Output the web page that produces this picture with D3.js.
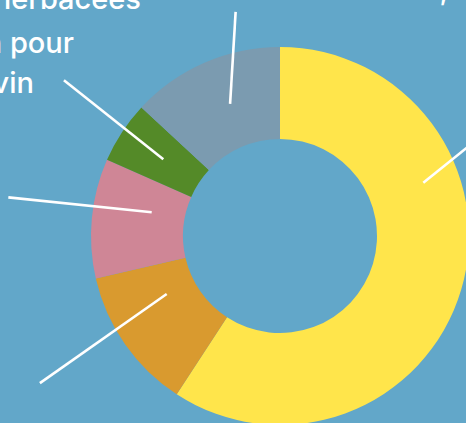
<!DOCTYPE html>
<html>
<head>
<meta charset="utf-8">
<script src="https://cdn.jsdelivr.net/npm/d3@7"></script>
<style>
  html, body { margin: 0; padding: 0; background: #62a7c9; overflow: hidden; }
  svg { display: block; }
  text { font-family: Inter, "Noto Sans", sans-serif; fill: #ffffff; font-weight: 500; }
</style>
</head>
<body>
<svg id="chart" width="466" height="423"></svg>
<script>
// ---- data ----
const categories = [
  "Prairies et fourrages",
  "Céréales",
  "Oléagineux",
  "Plantes herbacées et raisin pour le vin",
  "Autres cultures"
];
const values = [59.2, 12.2, 10.2, 5.3, 13.1];
const valueLabels = ["59,2 %", "12,2 %", "10,2 %", "5,3 %", "13,1 %"];
const colors = ["#ffe54b", "#d99a2f", "#cf8696", "#548a28", "#7b9bb0"];

// ---- layout ----
const W = 466, H = 423;
const cx = 280, cy = 236;
const outerR = 189, innerR = 97;

// leader lines in polar coordinates around the centre (degrees clockwise from top)
const leaders = [
  { a0: 69.6,  r0: 152.9, a1: 63.0,  r1: 236 },
  { a0: 242.9, r0: 127.3, a1: 238.5, r1: 281.6 },
  { a0: 280.5, r0: 130.5, a1: 278.1, r1: 274.4 },
  { a0: 303.3, r0: 139.6, a1: 305.8, r1: 266.4 },
  { a0: 339.3, r0: 141.2, a1: 348.8, r1: 228.4 }
];

const svg = d3.select("#chart");
svg.append("rect").attr("width", W).attr("height", H).attr("fill", "#62a7c9");

const g = svg.append("g").attr("transform", `translate(${cx},${cy})`);

const pie = d3.pie().sort(null).value(d => d);
const arc = d3.arc().innerRadius(innerR).outerRadius(outerR);

const arcs = pie(values);

g.selectAll("path.slice")
  .data(arcs)
  .join("path")
  .attr("class", "slice")
  .attr("d", arc)
  .attr("fill", (d, i) => colors[i]);

const rad = deg => deg * Math.PI / 180;

g.selectAll("line.leader")
  .data(leaders)
  .join("line")
  .attr("class", "leader")
  .attr("x1", d => d3.pointRadial(rad(d.a0), d.r0)[0])
  .attr("y1", d => d3.pointRadial(rad(d.a0), d.r0)[1])
  .attr("x2", d => d3.pointRadial(rad(d.a1), d.r1)[0])
  .attr("y2", d => d3.pointRadial(rad(d.a1), d.r1)[1])
  .attr("stroke", "#ffffff")
  .attr("stroke-width", 2.6)
  .attr("stroke-linecap", "butt");

// ---- labels (most of them sit outside the visible frame) ----
const fs = 29;
function label(lines) {
  const t = svg.append("text").attr("font-size", fs);
  lines.forEach(l => {
    t.append("tspan")
      .attr("x", l.x).attr("y", l.y)
      .attr("text-anchor", l.anchor || "end")
      .text(l.s);
  });
}
// yellow
label([
  { s: "Prairies et", x: 404, y: -80, anchor: "start" },
  { s: "fourrages", x: 404, y: -40, anchor: "start" },
  { s: valueLabels[0], x: 404, y: 0, anchor: "start" }
]);
// orange
label([
  { s: categories[1], x: -8, y: 380 },
  { s: valueLabels[1], x: -8, y: 420 }
]);
// pink
label([
  { s: categories[2], x: -8, y: 190 },
  { s: valueLabels[2], x: -8, y: 230 }
]);
// green
label([
  { s: "Plantes herbacées", x: 141, y: 8.5 },
  { s: "et raisin pour", x: 74, y: 53 },
  { s: "le vin", x: 34, y: 93 }
]);
// gray
label([
  { s: categories[4], x: 235, y: -60, anchor: "middle" },
  { s: valueLabels[4], x: 235, y: -20, anchor: "middle" }
]);
</script>
</body>
</html>
